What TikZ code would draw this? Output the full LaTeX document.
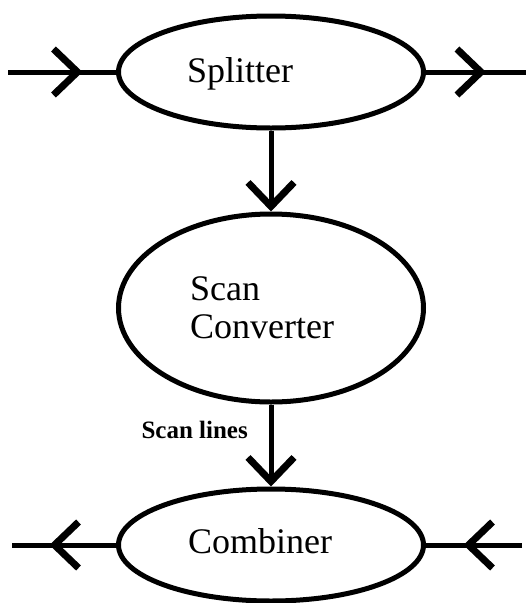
\documentclass[tikz,border=0pt]{standalone}
\usepackage{fontspec}
\setmainfont{Liberation Serif}
\usetikzlibrary{arrows.meta,decorations.markings,shapes.geometric}
\begin{document}
\begin{tikzpicture}[x=1pt,y=-1pt,
  proc/.style={draw, ellipse, line width=5pt, minimum width=305pt, inner sep=0pt},
  flow/.style={line width=5pt},
  endbarb/.style={-{Straight Barb[length=24pt,width=46pt,line width=2pt 1]}},
  midarrow/.style={postaction={decorate}, decoration={markings, mark=at position #1 with {\arrow{Straight Barb[length=24pt,width=46pt,line width=2pt 1]}}}},
  lbl/.style={anchor=base west, font=\fontsize{36}{38}\selectfont, inner sep=0pt},
  small/.style={anchor=base east, font=\bfseries\fontsize{25}{28}\selectfont, inner sep=0pt}
]
\useasboundingbox (0,0) rectangle (526,603);
\node[proc, minimum height=112pt] (S) at (271,72) {};
\node[proc, minimum height=188pt] (C) at (271,308) {};
\node[proc, minimum height=112pt] (M) at (271,545) {};

\node[lbl] (tS) at (187,82) {Splitter};
\node[lbl] (tC1) at (190,300) {Scan};
\node[lbl] (tC2) at (190,338) {Converter};
\node[lbl] (tM) at (188,553) {Combiner};
\node[small] (sl) at (248,438) {Scan lines};

\coordinate (inS) at (8,72);
\coordinate (outS) at (526,72);
\coordinate (outM) at (12,545);
\coordinate (inM) at (522,545);

\draw[flow, midarrow=0.69] (inS) -- (S.west);
\draw[flow, midarrow=0.6] (S.east) -- (outS);
\draw[flow, endbarb] (S.south) -- (C.north);
\draw[flow, endbarb] (C.south) -- (M.north);
\draw[flow, midarrow=0.64] (M.west) -- (outM);
\draw[flow, midarrow=0.61] (inM) -- (M.east);
\end{tikzpicture}
\end{document}
